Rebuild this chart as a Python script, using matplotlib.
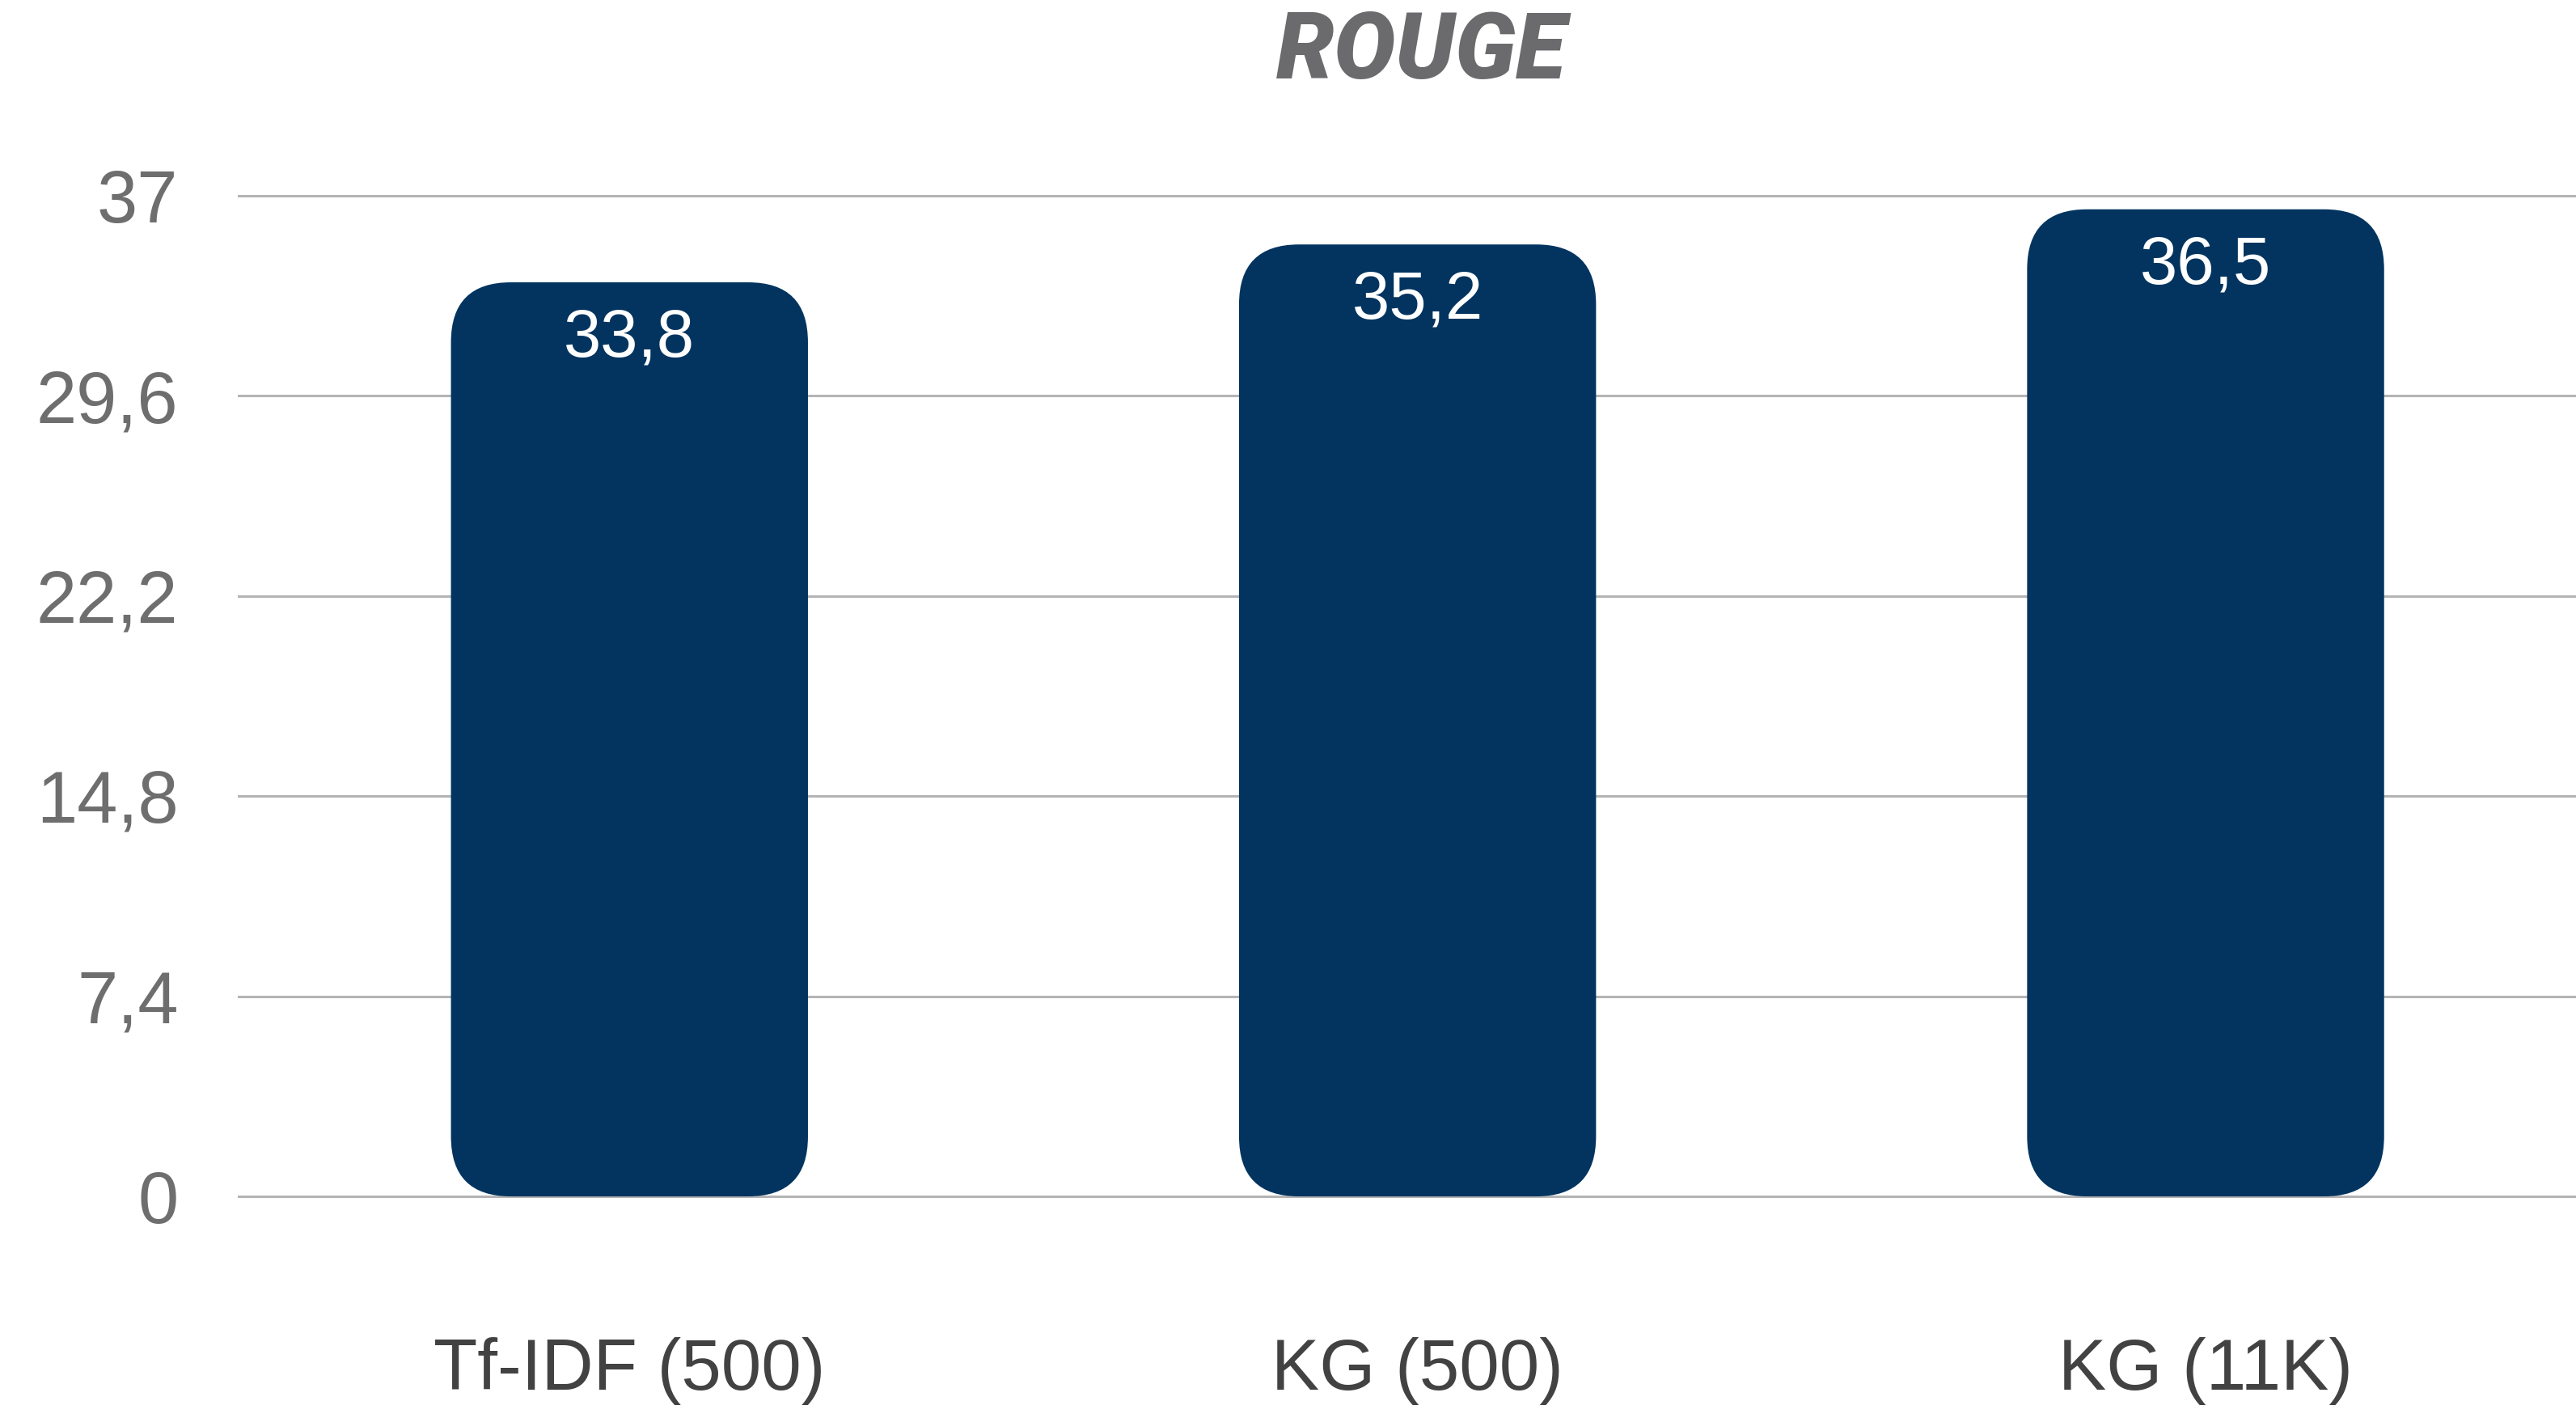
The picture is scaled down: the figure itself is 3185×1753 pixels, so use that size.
"""ROUGE scores: Tf-IDF vs knowledge-graph retrieval, rounded bar chart."""

import matplotlib

matplotlib.use("Agg")
import matplotlib.pyplot as plt
from matplotlib.patches import FancyBboxPatch

categories = ["Tf-IDF (500)", "KG (500)", "KG (11K)"]
rouge = [33.8, 35.2, 36.5]
value_labels = ["33,8", "35,2", "36,5"]
y_ticks = [0, 7.4, 14.8, 22.2, 29.6, 37]
y_tick_labels = ["0", "7,4", "14,8", "22,2", "29,6", "37"]

BAR = "#02345F"
GRID = "#B4B4B4"
TICK = "#6E6E6E"
CAT = "#424242"
TITLE = "#6B6B6E"

plt.rcParams["font.family"] = ["Liberation Sans", "DejaVu Sans"]

DPI = 100
fig = plt.figure(figsize=(31.85, 17.53), dpi=DPI)
ax = fig.add_axes([294 / 3185, 0.1372, 1 - 294 / 3185, 0.7438])
ax.set_xlim(-0.497, 2.47)
ax.set_ylim(-1, 38)

for s in ax.spines.values():
    s.set_visible(False)

ax.set_yticks(y_ticks, y_tick_labels)
ax.tick_params(axis="y", length=0, pad=53, labelsize=65, labelcolor=TICK)
ax.set_xticks(range(len(categories)), categories)
ax.tick_params(axis="x", length=0, pad=101, labelsize=64, labelcolor=CAT)
for t in y_ticks:
    ax.axhline(t, color=GRID, lw=2.2, zorder=0)

# bars drawn by matplotlib, then swapped for rounded patches
bars = ax.bar(range(len(categories)), rouge, width=0.453, color=BAR, zorder=2)
fig.canvas.draw()
(x0, y0), (x1, y1) = ax.transData.transform([(0, 0), (1, 1)])
aspect = (x1 - x0) / (y1 - y0)  # y-data per x-data at equal pixel size
radius_px = 74
r = radius_px / (x1 - x0)
for b in bars:
    b.set_visible(False)
    p = FancyBboxPatch(
        (b.get_x(), b.get_y()), b.get_width(), b.get_height(),
        boxstyle=f"round,pad=0,rounding_size={r}",
        mutation_aspect=aspect, facecolor=BAR, edgecolor="none", zorder=2,
    )
    ax.add_patch(p)

for i, (v, lab) in enumerate(zip(rouge, value_labels)):
    ax.annotate(lab, (i, v), xytext=(0, -66), textcoords="offset points",
                ha="center", va="baseline", color="white", fontsize=60, zorder=3)

fig.text(1757 / 3185, 1 - 66 / 1753, "ROUGE", ha="center", va="center",
         fontsize=82, color=TITLE, family=["Roboto", "Lato", "DejaVu Sans"],
         fontweight="black", fontstyle="italic")

fig.savefig("out.png", dpi=DPI)
